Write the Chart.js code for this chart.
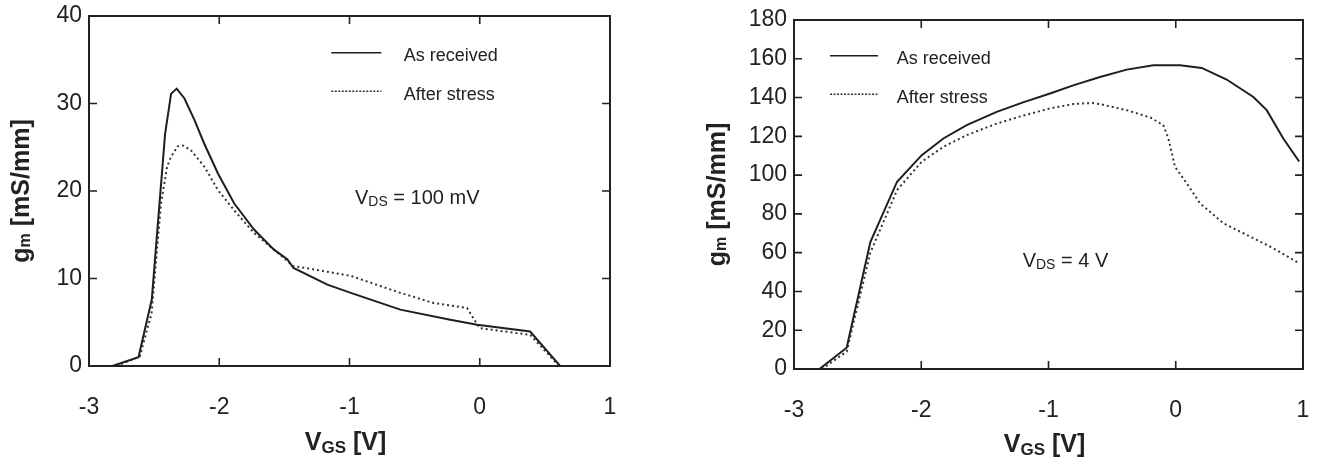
<!DOCTYPE html>
<html><head><meta charset="utf-8">
<script src="https://cdn.jsdelivr.net/npm/chart.js@4.4.1/dist/chart.umd.min.js"></script>
<style>
html,body{margin:0;padding:0;background:#fff;}
#wrap{position:relative;width:1322px;height:464px;overflow:hidden;}
.c{position:absolute;top:0;height:464px;}
</style></head><body>
<div id="wrap">
<div class="c" style="left:0;width:660px"><canvas id="left"></canvas></div>
<div class="c" style="left:660px;width:662px"><canvas id="right"></canvas></div>
</div>
<script>
// ---- data ----
const xTickLabels = ['-3','-2','-1','0','1'];
const seriesNames = ['As received','After stress'];

// Left panel: V_DS = 100 mV
const leftReceivedX = [-2.82,-2.62,-2.518,-2.416,-2.37,-2.327,-2.268,-2.19,-2.115,-2.01,-1.886,-1.733,-1.58,-1.478,-1.43,-1.17,-0.99,-0.61,-0.226,-0.02,0.387,0.617];
const leftReceivedY = [0,1.0,7.6,26.5,31.1,31.7,30.6,28.1,25.4,22.0,18.6,15.6,13.3,12.2,11.2,9.3,8.36,6.44,5.29,4.71,3.94,0];
const leftStressX = [-2.79,-2.61,-2.52,-2.447,-2.40,-2.37,-2.32,-2.28,-2.22,-2.115,-2.01,-1.886,-1.733,-1.58,-1.43,-1.375,-0.99,-0.61,-0.354,-0.098,-0.034,0.0,0.387,0.61];
const leftStressY = [0,1.1,6,18.6,22.8,23.9,25.1,25.2,24.7,22.8,20.1,17.8,15.2,13.3,11.4,11.3,10.3,8.36,7.2,6.63,5.1,4.33,3.56,0];
const leftYTicks = ['0','10','20','30','40'];

// Right panel: V_DS = 4 V
const rightReceivedX = [-2.8,-2.586,-2.40,-2.19,-1.996,-1.826,-1.643,-1.407,-1.2,-0.988,-0.8,-0.595,-0.385,-0.176,0.033,0.204,0.40,0.61,0.715,0.845,0.97];
const rightReceivedY = [0,11,65.5,96.6,110.3,118.9,125.8,132.6,137.5,142.1,146.4,150.6,154.4,156.6,156.6,155.3,149.3,140.3,133.5,118.9,107];
const rightStressX = [-2.78,-2.586,-2.40,-2.19,-1.996,-1.826,-1.643,-1.407,-1.2,-0.988,-0.8,-0.65,-0.595,-0.385,-0.2,-0.098,-0.058,-0.006,0.086,0.19,0.374,0.584,0.767,0.97];
const rightStressY = [0,9,60,92.3,106.9,114.6,120.6,126.6,130.7,134.4,136.7,137.2,136.6,133.5,129.7,125.8,118.9,104.3,95.8,85.5,75.2,68.3,62.3,54.5];
const rightYTicks = ['0','20','40','60','80','100','120','140','160','180'];

// ---- helpers ----
const FONT = '"Liberation Sans", Arial, Helvetica, sans-serif';
const INK = '#222';
function zip(xs, ys){ return xs.map((x,i)=>({x:x, y:ys[i]})); }

function richWidth(ctx, parts){
  let w=0;
  parts.forEach(p=>{ ctx.font=(p.bold?'bold ':'')+p.size+'px '+FONT; w+=ctx.measureText(p.t).width; });
  return w;
}
function drawRich(ctx, parts, x, y, align){
  const w = richWidth(ctx, parts);
  let cx = align==='center' ? x - w/2 : x;
  ctx.textBaseline='middle'; ctx.textAlign='left';
  parts.forEach(p=>{
    ctx.font=(p.bold?'bold ':'')+p.size+'px '+FONT;
    ctx.fillText(p.t, cx, y + (p.dy||0));
    cx += ctx.measureText(p.t).width;
  });
}

const framePlugin = {
  id:'frame',
  afterDraw(chart, args, o){
    const ctx = chart.ctx, a = chart.chartArea, x = chart.scales.x, y = chart.scales.y;
    ctx.save();
    ctx.strokeStyle=INK; ctx.fillStyle=INK;
    ctx.lineWidth=2;
    ctx.strokeRect(a.left, a.top, a.right-a.left, a.bottom-a.top);
    ctx.lineWidth=1.6;
    const tl=8;
    ctx.beginPath();
    x.ticks.forEach(t=>{
      const px = x.getPixelForValue(t.value);
      ctx.moveTo(px, a.bottom); ctx.lineTo(px, a.bottom-tl);
      ctx.moveTo(px, a.top); ctx.lineTo(px, a.top+tl);
    });
    y.ticks.forEach(t=>{
      const py = y.getPixelForValue(t.value);
      ctx.moveTo(a.left, py); ctx.lineTo(a.left+tl, py);
      ctx.moveTo(a.right, py); ctx.lineTo(a.right-tl, py);
    });
    ctx.stroke();

    // legend
    const L = o.legend;
    chart.data.datasets.forEach((ds,i)=>{
      const py = y.getPixelForValue(L.y[i]);
      ctx.save();
      ctx.strokeStyle = ds.borderColor; ctx.lineWidth = 1.6;
      ctx.setLineDash(ds.borderDash ? [2,1.5] : []);
      ctx.beginPath();
      ctx.moveTo(x.getPixelForValue(L.x1), py);
      ctx.lineTo(x.getPixelForValue(L.x2), py);
      ctx.stroke();
      ctx.restore();
      ctx.font = '18px '+FONT; ctx.textAlign='left'; ctx.textBaseline='middle';
      ctx.fillText(ds.label, x.getPixelForValue(L.tx), py + 3.5);
    });

    // annotation
    const A = o.note;
    drawRich(ctx, A.parts, x.getPixelForValue(A.x), y.getPixelForValue(A.y), 'left');

    // axis titles
    const cxp = (a.left+a.right)/2 + o.xTitleShift;
    drawRich(ctx, [{t:'V',size:25,bold:true},{t:'GS',size:17,bold:true,dy:5},{t:' [V]',size:25,bold:true}], cxp, o.xTitleY, 'center');
    ctx.save();
    ctx.translate(o.yTitleX, (a.top+a.bottom)/2);
    ctx.rotate(-Math.PI/2);
    drawRich(ctx, [{t:'g',size:25,bold:true},{t:'m',size:16,bold:true,dy:4},{t:' [mS/mm]',size:25,bold:true}], 0, 0, 'center');
    ctx.restore();
    ctx.restore();
  }
};

function zeroPad(s){ s.paddingLeft = 0; s.paddingRight = 0; s.paddingTop = 0; s.paddingBottom = 0; }

function makeChart(id, w, cfg){
  const canvas = document.getElementById(id);
  canvas.width = w; canvas.height = 464;
  return new Chart(canvas, {
    type:'line',
    data:{datasets:[
      {label:seriesNames[0], data:zip(cfg.rx,cfg.ry), borderColor:'#1e1e1e', borderWidth:2, pointRadius:0, tension:0, fill:false},
      {label:seriesNames[1], data:zip(cfg.sx,cfg.sy), borderColor:'#333', borderWidth:2, borderDash:[2,3], pointRadius:0, tension:0, fill:false}
    ]},
    options:{
      responsive:false, animation:false,
      layout:{padding:cfg.pad},
      plugins:{legend:{display:false}, tooltip:{enabled:false}, frame:cfg.frame},
      scales:{
        x:{type:'linear', min:-3, max:1,
           ticks:{stepSize:1, padding:28, color:INK, font:{family:FONT, size:23},
                  callback:(v)=>xTickLabels[Math.round(v+3)]},
           grid:{display:false, drawTicks:false}, border:{display:false},
           afterFit(s){ s.height = cfg.xh; zeroPad(s); }},
        y:{type:'linear', min:0, max:cfg.ymax,
           ticks:{stepSize:cfg.ystep, padding:7, color:INK, font:{family:FONT, size:23},
                  callback:(v)=>cfg.yLabels[Math.round(v/cfg.ystep)]},
           grid:{display:false, drawTicks:false}, border:{display:false},
           afterFit(s){ s.width = cfg.yw; zeroPad(s); }}
      }
    },
    plugins:[framePlugin]
  });
}

makeChart('left', 660, {
  rx:leftReceivedX, ry:leftReceivedY, sx:leftStressX, sy:leftStressY,
  ymax:40, ystep:10, yLabels:leftYTicks,
  pad:{left:0, right:50, top:16, bottom:0}, yw:89, xh:98,
  frame:{
    legend:{x1:-1.14, x2:-0.755, tx:-0.583, y:[35.8,31.4]},
    note:{x:-0.958, y:19.17, parts:[{t:'V',size:20},{t:'DS',size:14,dy:4},{t:' = 100 mV',size:20}]},
    xTitleY:443, xTitleShift:-4, yTitleX:22
  }
});

makeChart('right', 662, {
  rx:rightReceivedX, ry:rightReceivedY, sx:rightStressX, sy:rightStressY,
  ymax:180, ystep:20, yLabels:rightYTicks,
  pad:{left:0, right:19, top:20, bottom:0}, yw:134, xh:95,
  frame:{
    legend:{x1:-2.717, x2:-2.34, tx:-2.193, y:[161.6,141.7]},
    note:{x:-1.203, y:55.4, parts:[{t:'V',size:20},{t:'DS',size:14,dy:4},{t:' = 4 V',size:20}]},
    xTitleY:445, xTitleShift:-4, yTitleX:58
  }
});
</script>
</body></html>
